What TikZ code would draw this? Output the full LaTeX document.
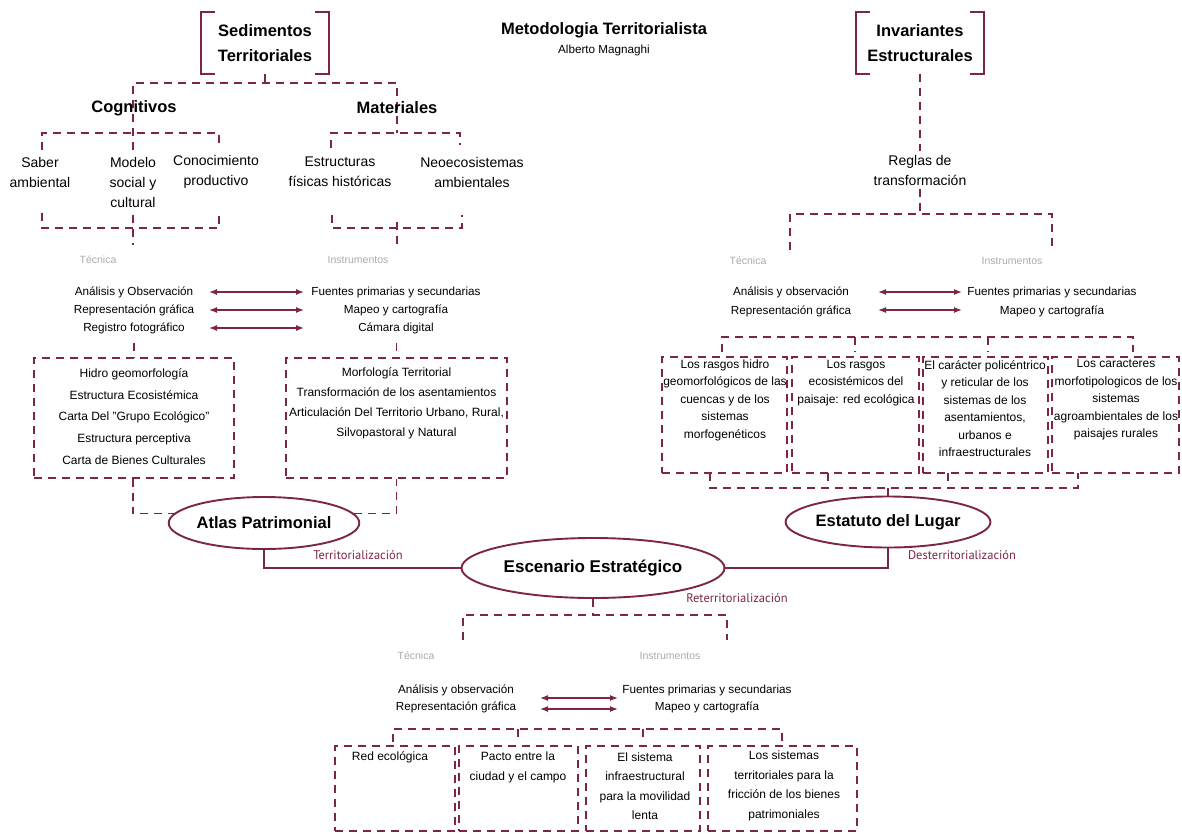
\documentclass[tikz,border=0pt]{standalone}
\usepackage{fontspec}
\setmainfont{Liberation Sans}
\newfontfamily\labelfont{PT Sans}
\usepackage{tikz}
\usetikzlibrary{shapes.geometric, arrows.meta}
\definecolor{vino}{RGB}{125,38,68}
\definecolor{gris}{RGB}{170,170,170}

\begin{document}
\begin{tikzpicture}[x=1pt,y=-1pt,
  dsh/.style={vino,line width=1.9pt,dash pattern=on 8pt off 6pt},
  brk/.style={vino,line width=1.9pt},
  lnk/.style={vino,line width=1.9pt},
  dbl/.style={vino,line width=1.3pt,{Latex[length=8pt,width=6pt]}-{Latex[length=8pt,width=6pt]}},
  frame/.style={draw=vino,line width=1.9pt,dash pattern=on 8pt off 6pt,inner sep=0pt},
  hd/.style={font=\bfseries\fontsize{16.5}{25}\selectfont,align=center},
  it/.style={font=\fontsize{14}{20}\selectfont,align=center},
  rw/.style={font=\fontsize{11.7}{18}\selectfont,align=center},
  bx/.style={font=\fontsize{12}{17.5}\selectfont,align=center},
  gr/.style={font=\fontsize{10.5}{12}\selectfont,text=gris},
  pr/.style={font=\labelfont\fontsize{12.5}{14}\selectfont,text=vino},
  elli/.style={draw=vino,line width=1.9pt,ellipse,fill=white,inner sep=0pt,font=\bfseries\fontsize{16.5}{20}\selectfont}]

\useasboundingbox (0,0) rectangle (1182,833);

\node[hd] (T0) at (604,30) {Metodologia Territorialista};
\node[font=\fontsize{11.7}{14}\selectfont] (T1) at (604,50) {Alberto Magnaghi};

% sedimentos
\node[hd,minimum width=128pt,minimum height=61pt,inner sep=0pt] (sed) at (265,43) {Sedimentos\\Territoriales};
\draw[brk] ([xshift=14pt]sed.north west) -- (sed.north west) -- (sed.south west) -- ([xshift=14pt]sed.south west);
\draw[brk] ([xshift=-14pt]sed.north east) -- (sed.north east) -- (sed.south east) -- ([xshift=-14pt]sed.south east);
\coordinate (s1) at (265,83);
\draw[dsh] (sed.south) -- (s1);
\draw[dsh] (133,150) -- (133,83) -- (397,83) -- (397,133);

\node[hd] (cog) at (134,108) {Cognitivos};
\node[hd] (mat) at (397,108) {Materiales};

\draw[dsh] (42,150) -- (42,133) -- (219,133) -- (219,147);
\draw[dsh] (331,148) -- (331,133) -- (460,133) -- (460,145);

\node[it] (sab) at (40,172) {Saber\\ambiental};
\node[it] (mod) at (133,182) {Modelo\\social y\\cultural};
\node[it] (con) at (216,172) {Conocimiento\\productivo};
\node[it] (est1) at (340,172) {Estructuras\\físicas históricas};
\node[it] (neo) at (472,172) {Neoecosistemas\\ambientales};

\draw[dsh] (42,213) -- (42,228) -- (219,228) -- (219,212);
\draw[dsh] (133,215) -- (133,245);
\draw[dsh] (332,215) -- (332,228) -- (462,228) -- (462,215);
\draw[dsh] (397,222) -- (397,245);

\node[gr] (tc1) at (98,260) {Técnica};
\node[gr] (in1) at (358,260) {Instrumentos};
\node[rw] (tA) at (134,310) {Análisis y Observación\\Representación gráfica\\Registro fotográfico};
\node[rw] (iA) at (396,310) {Fuentes primarias y secundarias\\Mapeo y cartografía\\Cámara digital};
\foreach \y/\n in {292/1,310/2,328/3}{
  \coordinate (la\n) at (209,\y);
  \coordinate (ra\n) at (304,\y);
  \draw[dbl] (la\n) -- (ra\n);
}

\node[frame,minimum width=200pt,minimum height=120pt] (L1) at (134,418) {};
\node[frame,minimum width=221pt,minimum height=120pt] (L2) at (396.5,418) {};
\draw[dsh] (134,343) -- (L1.north);
\draw[dsh] (396.5,343) -- (L2.north);
\node[bx,font=\fontsize{12}{21.7}\selectfont] (hid) at (134,416.5) {Hidro geomorfología\\Estructura Ecosistémica\\Carta Del "Grupo Ecológico"\\Estructura perceptiva\\Carta de Bienes Culturales};
\node[bx,font=\fontsize{12}{20}\selectfont] (mor) at (396.5,403) {Morfología Territorial\\Transformación de los asentamientos\\Articulación Del Territorio Urbano, Rural,\\Silvopastoral y Natural};

% atlas
\node[elli,minimum width=158pt,minimum height=52pt] (atl) at (264,523) {Atlas Patrimonial};
\draw[dsh] (L1.south -| 133,0) |- (atl.174);
\draw[dsh] (atl.6) -| (L2.south);

% escenario
\node[elli,minimum width=263pt,minimum height=60pt,font=\bfseries\fontsize{17}{20}\selectfont] (esc) at (593,568) {Escenario Estratégico};
\draw[lnk] (atl.south) |- (esc.west);
\node[pr] (p1) at (358,555) {Territorialización};

% invariantes
\node[hd,minimum width=128pt,minimum height=61pt,inner sep=0pt] (inv) at (920,43) {Invariantes\\Estructurales};
\draw[brk] ([xshift=14pt]inv.north west) -- (inv.north west) -- (inv.south west) -- ([xshift=14pt]inv.south west);
\draw[brk] ([xshift=-14pt]inv.north east) -- (inv.north east) -- (inv.south east) -- ([xshift=-14pt]inv.south east);
\node[it] (reg) at (920,170) {Reglas de\\transformación};
\draw[dsh] (inv.south) -- (reg.north);
\coordinate (r1) at (920,214);
\draw[dsh] (reg.south) -- (r1);
\draw[dsh] (790,250) -- (790,214) -- (1052,214) -- (1052,250);

\node[gr] (tc2) at (748,261) {Técnica};
\node[gr] (in2) at (1012,261) {Instrumentos};
\node[rw,font=\fontsize{11.7}{19}\selectfont] (tB) at (791,301.5) {Análisis y observación\\Representación gráfica};
\node[rw,font=\fontsize{11.7}{19}\selectfont] (iB) at (1052,301.5) {Fuentes primarias y secundarias\\Mapeo y cartografía};
\foreach \y/\n in {292/1,310/2}{
  \coordinate (lb\n) at (878,\y);
  \coordinate (rb\n) at (962,\y);
  \draw[dbl] (lb\n) -- (rb\n);
}

\draw[dsh] (722,352) -- (722,337) -- (1133,337) -- (1133,352);
\draw[dsh] (855,337) -- (855,352);
\draw[dsh] (988,337) -- (988,352);

\node[frame,minimum width=125pt,minimum height=116pt] (R1) at (724.5,415) {};
\node[frame,minimum width=127pt,minimum height=116pt] (R2) at (855.5,415) {};
\node[frame,minimum width=125pt,minimum height=116pt] (R3) at (985.5,415) {};
\node[frame,minimum width=127pt,minimum height=116pt] (R4) at (1115.5,415) {};
\node[bx] (r1t) at (725,400) {Los rasgos hidro\\geomorfológicos de las\\cuencas y de los\\sistemas\\morfogenéticos};
\node[bx] (r2t) at (856,383) {Los rasgos\\ecosistémicos del\\paisaje: red ecológica};
\node[bx] (r3t) at (985,408.5) {El carácter policéntrico\\y reticular de los\\sistemas de los\\asentamientos,\\urbanos e\\infraestructurales};
\node[bx] (r4t) at (1116,400) {Los caracteres\\morfotipologicos de los\\sistemas\\agroambientales de los\\paisajes rurales};

\draw[dsh] (710,473) -- (710,488) -- (1078,488) -- (1078,473);
\draw[dsh] (828,473) -- (828,488);
\draw[dsh] (948,473) -- (948,488);

% estatuto
\node[elli,minimum width=181pt,minimum height=51pt] (est) at (888,522) {Estatuto del Lugar};
\draw[dsh] (888,488) -- (est.north);
\draw[lnk] (esc.east) -| (est.south);
\node[pr] (p2) at (962,555) {Desterritorialización};
\node[pr] (p3) at (737,598) {Reterritorialización};

% abajo
\coordinate (e1) at (593,615);
\draw[dsh] (esc.south) -- (e1);
\draw[dsh] (463,640) -- (463,615) -- (727,615) -- (727,640);

\node[gr] (tc3) at (416,656) {Técnica};
\node[gr] (in3) at (670,656) {Instrumentos};
\node[rw,font=\fontsize{11.7}{17}\selectfont] (tC) at (456,698.5) {Análisis y observación\\Representación gráfica};
\node[rw,font=\fontsize{11.7}{17}\selectfont] (iC) at (707,698.5) {Fuentes primarias y secundarias\\Mapeo y cartografía};
\foreach \y/\n in {698/1,709/2}{
  \coordinate (lc\n) at (540,\y);
  \coordinate (rc\n) at (618,\y);
  \draw[dbl] (lc\n) -- (rc\n);
}

\draw[dsh] (393,742) -- (393,729) -- (782,729) -- (782,742);
\draw[dsh] (518,729) -- (518,742);
\draw[dsh] (643,729) -- (643,742);

\node[frame,minimum width=120pt,minimum height=85pt] (B1) at (395,788.5) {};
\node[frame,minimum width=119pt,minimum height=85pt] (B2) at (518.5,788.5) {};
\node[frame,minimum width=114pt,minimum height=85pt] (B3) at (643,788.5) {};
\node[frame,minimum width=149pt,minimum height=85pt] (B4) at (782.5,788.5) {};
\node[bx] (b1t) at (390,757) {Red ecológica};
\node[bx,font=\fontsize{12}{20}\selectfont] (b2t) at (518,767) {Pacto entre la\\ciudad y el campo};
\node[bx,font=\fontsize{12}{19.5}\selectfont] (b3t) at (645,786) {El sistema\\infraestructural\\para la movilidad\\lenta};
\node[bx,font=\fontsize{12}{19.5}\selectfont] (b4t) at (784,786) {Los sistemas\\territoriales para la\\fricción de los bienes\\patrimoniales};
\end{tikzpicture}
\end{document}
